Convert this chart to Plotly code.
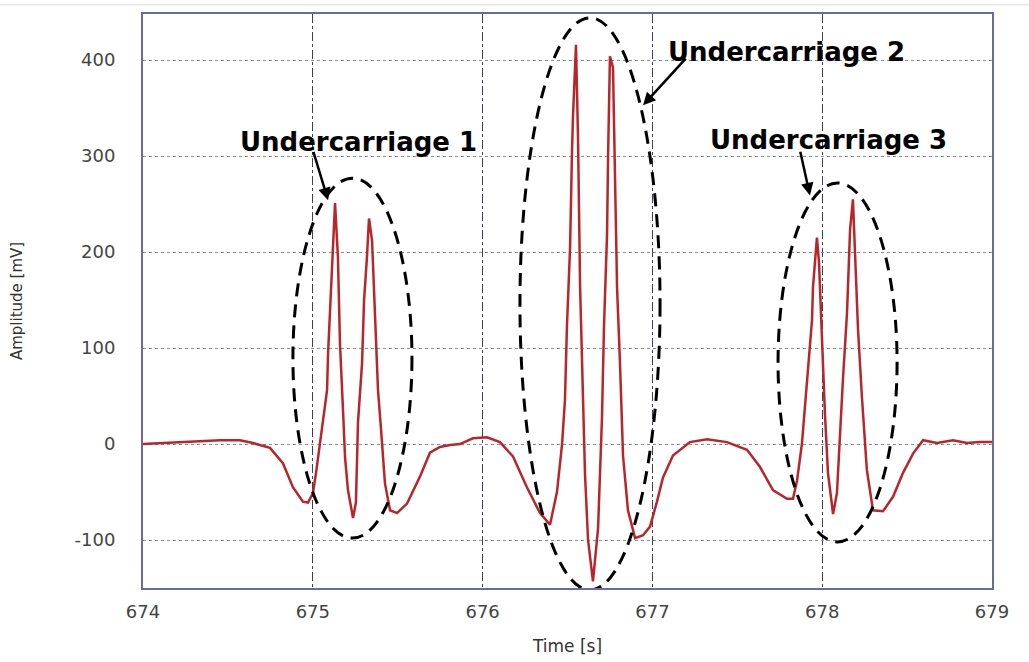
import plotly.graph_objects as go

# Time [s] and amplitude [mV]
time_s = [674.000, 674.100, 674.218, 674.336, 674.453, 674.571, 674.648, 674.748, 674.824, 674.883,
          674.942, 674.972, 675.001, 675.019, 675.042, 675.060, 675.084, 675.090, 675.101, 675.119,
          675.131, 675.148, 675.160, 675.178, 675.190, 675.207, 675.237, 675.254, 675.266, 675.290,
          675.302, 675.319, 675.331, 675.349, 675.360, 675.384, 675.402, 675.425, 675.455, 675.496,
          675.555, 675.631, 675.690, 675.749, 675.808, 675.867, 675.943, 676.026, 676.102, 676.179,
          676.261, 676.338, 676.397, 676.438, 676.468, 676.485, 676.497, 676.515, 676.526, 676.532,
          676.550, 676.562, 676.574, 676.591, 676.603, 676.621, 676.650, 676.680, 676.703, 676.715,
          676.733, 676.739, 676.750, 676.768, 676.780, 676.792, 676.809, 676.827, 676.856, 676.898,
          676.945, 676.986, 677.027, 677.062, 677.121, 677.221, 677.322, 677.439, 677.557, 677.634,
          677.710, 677.793, 677.828, 677.852, 677.881, 677.899, 677.916, 677.940, 677.946, 677.969,
          677.981, 677.999, 678.016, 678.034, 678.064, 678.087, 678.105, 678.122, 678.146, 678.164,
          678.181, 678.193, 678.211, 678.234, 678.263, 678.299, 678.358, 678.417, 678.476, 678.535,
          678.594, 678.676, 678.770, 678.853, 678.929, 679.000]
amplitude_mv = [0, 1, 2, 3, 4, 4, 1, -4, -20, -45,
                -60, -61, -51, -30, 1, 25, 56, 95, 136, 202,
                251, 195, 105, 35, -14, -48, -77, -61, 22, 84,
                150, 195, 235, 212, 160, 56, 15, -41, -69, -72,
                -62, -34, -9, -3, -1, 0, 6, 7, 2, -13,
                -45, -72, -84, -50, 0, 46, 124, 204, 300, 340,
                416, 319, 165, 46, -31, -100, -143, -88, 27, 123,
                219, 300, 404, 392, 265, 162, 85, -12, -69, -98,
                -95, -86, -60, -35, -12, 2, 5, 2, -6, -24,
                -48, -57, -57, -38, 1, 39, 80, 129, 164, 215,
                190, 108, 32, -30, -73, -51, 15, 67, 136, 223,
                255, 199, 119, 49, -27, -69, -70, -55, -30, -10,
                4, 1, 4, 1, 2, 2]

x_ticks = [674, 675, 676, 677, 678, 679]
y_ticks = [-100, 0, 100, 200, 300, 400]

labels = ["Undercarriage 1", "Undercarriage 2", "Undercarriage 3"]
label_t = [675.272, 677.787, 678.040]
label_y = [315, 408, 317]
arrow_head_t = [675.090, 676.945, 677.928]
arrow_head_y = [254, 353, 259]
arrow_tail_t = [675.001, 677.204, 677.869]
arrow_tail_y = [306, 403, 306]
ellipse_t0 = [674.883, 676.220, 677.740]
ellipse_t1 = [675.584, 677.045, 678.441]
ellipse_y0 = [-98, -152, -102]
ellipse_y1 = [277, 444, 272]

fig = go.Figure()
fig.add_trace(go.Scatter(x=time_s, y=amplitude_mv, mode="lines",
                         line=dict(color="#b8262b", width=2.5), showlegend=False))

for i in range(3):
    fig.add_shape(type="circle", xref="x", yref="y",
                  x0=ellipse_t0[i], x1=ellipse_t1[i], y0=ellipse_y0[i], y1=ellipse_y1[i],
                  line=dict(color="black", width=3, dash="13px,8px"))
    fig.add_annotation(x=label_t[i], y=label_y[i], text="<b>%s</b>" % labels[i], showarrow=False,
                       font=dict(family="DejaVu Sans", size=26, color="black"))
    fig.add_annotation(x=arrow_head_t[i], y=arrow_head_y[i], ax=arrow_tail_t[i], ay=arrow_tail_y[i],
                       axref="x", ayref="y", xref="x", yref="y", text="", showarrow=True,
                       arrowhead=2, arrowsize=1, arrowwidth=2.5, arrowcolor="black")

# thin gray line at very top of the image
fig.add_shape(type="line", xref="paper", yref="paper", x0=-0.2, x1=1.1, y0=1.016, y1=1.016,
              line=dict(color="#dddddd", width=1))

fig.update_layout(
    width=1029, height=662,
    margin=dict(l=143, r=37, t=14, b=74, autoexpand=False),
    paper_bgcolor="white", plot_bgcolor="white",
    font=dict(family="DejaVu Sans", color="#333333"),
)
fig.update_xaxes(range=[674, 679], tickvals=x_ticks, ticktext=[str(v) for v in x_ticks],
                 showgrid=True, gridcolor="#3a3f66", griddash="dashdot", gridwidth=1.3,
                 showline=True, linecolor="#6a6aa0", linewidth=2, mirror=True,
                 ticks="", tickfont=dict(size=18, color="#444444"), ticklabelstandoff=6,
                 title=dict(text="Time [s]", font=dict(size=17, color="#333333"), standoff=20),
                 zeroline=False, automargin=False)
fig.update_yaxes(range=[-150, 448], tickvals=y_ticks, ticktext=[str(v) for v in y_ticks],
                 showgrid=True, gridcolor="#8a8a9a", griddash="dot", gridwidth=1.3,
                 showline=True, linecolor="#6a6aa0", linewidth=2, mirror=True,
                 ticks="", tickfont=dict(size=18, color="#444444"), ticklabelstandoff=22,
                 title=dict(text="Amplitude [mV]", font=dict(size=15, color="#333333"), standoff=48),
                 zeroline=False, automargin=False)

fig.write_html("out.html")
